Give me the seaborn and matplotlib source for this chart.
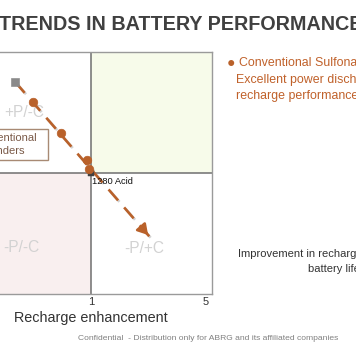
import matplotlib
matplotlib.use('Agg')
import matplotlib.pyplot as plt
import matplotlib.patheffects as pe
from matplotlib.patches import Rectangle
import seaborn as sns

# 数据：推荐的演变趋势（散点 + 虚线箭头）
trend_x = [-1.02, -0.04, 0.86, 0.93]
trend_y = [3.47, 2.39, 1.45, 1.14]
start_x, start_y = [-1.64], [4.17]
acid_x, acid_y = [1.0], [1.0]
arrow_end = (3.05, -1.23)
quad_labels = ['+P/-C', '-P/-C', '-P/+C']
quad_x = [-1.33, -1.43, 2.84]
quad_y = [3.12, -1.58, -1.62]
tick_pos = [1, 5]
tick_text = ['1', '5']

sns.set_theme(style='white')
plt.rcParams['font.family'] = ['Liberation Sans', 'DejaVu Sans']

orange = '#B9612A'
fig = plt.figure(figsize=(3.56, 3.64), dpi=100)
ax = fig.add_axes([-30/356, 70/364, 242/356, 242/364])
ax.set_xlim(-3.21, 5.21)
ax.set_ylim(-3.21, 5.21)

# 象限底色
ax.add_patch(Rectangle((1, 1), 5, 5, color='#F7FBEA', lw=0, zorder=0))
ax.add_patch(Rectangle((-4, -4), 5, 5, color='#F9EFEF', lw=0, zorder=0))
ax.axvline(1, color='#6f6f6f', lw=1.1, zorder=1)
ax.axhline(1, color='#6f6f6f', lw=1.1, zorder=1)
for s in ax.spines.values():
    s.set_color('#9a9a9a')
    s.set_linewidth(1)

# 象限标签
for lab, qx, qy in zip(quad_labels, quad_x, quad_y):
    ax.text(qx, qy, lab, color='#d2d2d2', fontsize=11.2, ha='center', va='center', zorder=1)

# 虚线 + 箭头
ax.plot([start_x[0], arrow_end[0]], [start_y[0], arrow_end[1]], color=orange, lw=1.9,
        dashes=[5.5, 3.5], zorder=2,
        path_effects=[pe.SimpleLineShadow(offset=(1, -1), shadow_color='gray', alpha=0.35), pe.Normal()])
dx = arrow_end[0] - start_x[0]
dy = arrow_end[1] - start_y[0]
ax.annotate('', xy=arrow_end, xytext=(arrow_end[0] - 0.08*dx, arrow_end[1] - 0.08*dy),
            arrowprops=dict(arrowstyle='-|>,head_length=0.5,head_width=0.3', color=orange, lw=1.9),
            zorder=3)

sns.scatterplot(x=start_x, y=start_y, ax=ax, marker='s', s=30, color='#8a8a8a', edgecolor='#8a8a8a', zorder=4)
sns.scatterplot(x=acid_x, y=acid_y, ax=ax, marker='s', s=18, color='#404040', edgecolor='#404040', zorder=3)
sns.scatterplot(x=trend_x, y=trend_y, ax=ax, marker='o', s=38, color=orange, edgecolor=orange, zorder=4)

ax.text(1.04, 0.72, '1280 Acid', fontsize=6.7, color='#111111', ha='left', va='center', zorder=5)

# 文本框
ax.add_patch(Rectangle((-3.6, 1.45), 3.1, 1.08, fill=False, ec='#A88A74', lw=1, zorder=5))
ax.text(-3.16, 1.98, 'Conventional\nExpanders', fontsize=8, color='#7A5A48', ha='left', va='center',
        linespacing=1.35, zorder=5)

ax.set_xticks(tick_pos)
ax.set_xticklabels(tick_text, fontsize=8, color='#333333')
ax.set_yticks([])
ax.tick_params(axis='x', length=0, pad=2.5)
ax.set_xlabel('Recharge enhancement', fontsize=10.4, color='#333333', labelpad=2.5)

# 标题和右侧说明
fig.text(-1/356, 1 - 25/364, 'TRENDS IN BATTERY PERFORMANCE', fontsize=14.2, fontweight='bold',
         color='#404040', ha='left', va='center')
fig.text(227/356, 1 - 63/364, '●', fontsize=10, color=orange, ha='left', va='center')
fig.text(239/356, 1 - 63/364, 'Conventional Sulfonated Lignin', fontsize=8.9, color='#C0612A', ha='left', va='center')
fig.text(236/356, 1 - 80/364, 'Excellent power discharge and', fontsize=8.9, color='#C0612A', ha='left', va='center')
fig.text(236/356, 1 - 96/364, 'recharge performance', fontsize=8.9, color='#C0612A', ha='left', va='center')
fig.text(238/356, 1 - 254/364, 'Improvement in recharge and', fontsize=8, color='#333333', ha='left', va='center')
fig.text(308/356, 1 - 269/364, 'battery life', fontsize=8, color='#333333', ha='left', va='center')
fig.text(78/356, 1 - 338/364, 'Confidential  - Distribution only for ABRG and its affiliated companies',
         fontsize=6.1, color='#808080', ha='left', va='center')

fig.savefig('out.png', dpi=100)
